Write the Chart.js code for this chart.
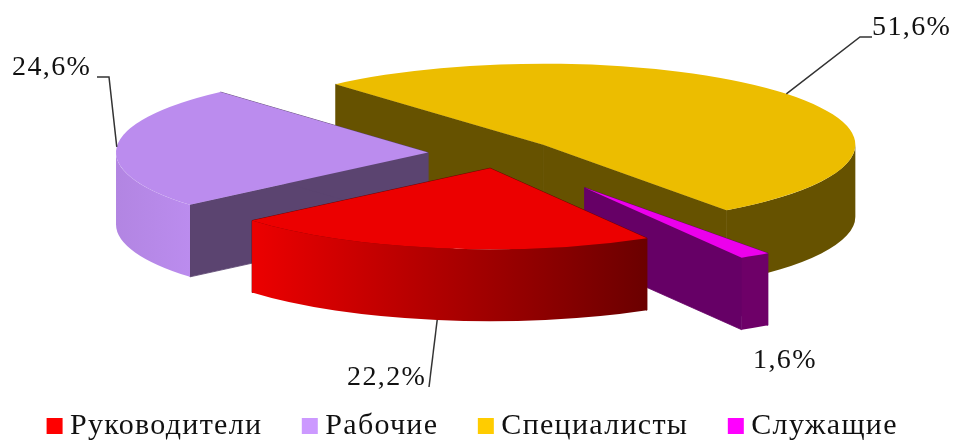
<!DOCTYPE html>
<html lang="ru">
<head>
<meta charset="utf-8">
<title>Структура персонала</title>
<script src="https://cdn.jsdelivr.net/npm/chart.js@4"></script>
<style>
  html, body { margin: 0; padding: 0; background: #fff; overflow: hidden; }
  canvas { display: block; }
</style>
</head>
<body>
<canvas id="pie" width="956" height="441"></canvas>
<script>
// ==== Data ====
const categories = ["Руководители", "Рабочие", "Специалисты", "Служащие"];
const shares = [22.2, 24.6, 51.6, 1.6];

// ==== Look ====
const topColors = ["#ec0000", "#bb8cee", "#ecbd00", "#ec00ec"];
const cutColors = ["#6b0000", "#5b4470", "#665200", "#660066"];
const wallColors = [["#ec0000", "#6b0000"], ["#b285e2", "#bb8cee"], ["#665200", "#665200"], ["#6e0068", "#6e0068"]];
const legendColors = ["#ff0000", "#cc99ff", "#ffcc00", "#ff00ff"];
const explode = [0.18, 0.23, 0.18, 0.5];
const drawOrder = [2, 1, 3, 0]; // back to front

const pieCenter = { x: 499.6, y: 153.8 };
const radiusX = 312;
const radiusY = 81;
const depth = 72;

// label text position, then the elbow of its leader line
const labelSpots = [
  { x: 347, y: 385, line: [[429, 387]] },
  { x: 12, y: 75, line: [[109, 77], [97, 77]] },
  { x: 872, y: 35, line: [[860, 37], [872, 37]] },
  { x: 753, y: 368, line: null }
];

function sliceGeometry(arc, i) {
  const mid = (arc.startAngle + arc.endAngle) / 2;
  return {
    x: pieCenter.x + explode[i] * radiusX * Math.cos(mid),
    y: pieCenter.y + explode[i] * radiusY * Math.sin(mid),
    mid
  };
}

function drawCut(ctx, g, angle, color) {
  const px = g.x + radiusX * Math.cos(angle);
  const py = g.y + radiusY * Math.sin(angle);
  ctx.fillStyle = color;
  ctx.strokeStyle = color;
  ctx.lineWidth = 0.8;
  ctx.beginPath();
  ctx.moveTo(g.x, g.y);
  ctx.lineTo(px, py);
  ctx.lineTo(px, py + depth);
  ctx.lineTo(g.x, g.y + depth);
  ctx.closePath();
  ctx.fill();
  ctx.stroke();
}

function drawOuterWall(ctx, g, start, end, colors) {
  // only the part of the rim that faces the viewer
  for (let k = 0; k < 2; k++) {
    const from = Math.max(start, k * 2 * Math.PI);
    const to = Math.min(end, k * 2 * Math.PI + Math.PI);
    if (to <= from) continue;
    const x0 = g.x + radiusX * Math.cos(from);
    const x1 = g.x + radiusX * Math.cos(to);
    const grad = ctx.createLinearGradient(Math.min(x0, x1), 0, Math.max(x0, x1), 0);
    grad.addColorStop(0, colors[0]);
    grad.addColorStop(1, colors[1]);
    ctx.fillStyle = grad;
    ctx.beginPath();
    ctx.ellipse(g.x, g.y, radiusX, radiusY, 0, from, to);
    ctx.ellipse(g.x, g.y + depth, radiusX, radiusY, 0, to, from, true);
    ctx.closePath();
    ctx.fill();
  }
}

// ==== 3D pie, built on the arcs the doughnut controller computed ====
const tiltedPie = {
  id: "tiltedPie",
  beforeUpdate(chart) {
    chart.ctx.letterSpacing = "1.3px";
  },
  beforeDatasetsDraw(chart) {
    const ctx = chart.ctx;
    const arcs = chart.getDatasetMeta(0).data;
    drawOrder.forEach(i => {
      const arc = arcs[i];
      const g = sliceGeometry(arc, i);
      drawCut(ctx, g, arc.startAngle, cutColors[i]);
      drawCut(ctx, g, arc.endAngle, cutColors[i]);
      drawOuterWall(ctx, g, arc.startAngle, arc.endAngle, wallColors[i]);
      ctx.save();
      ctx.translate(g.x, g.y);
      ctx.scale(radiusX / arc.outerRadius, radiusY / arc.outerRadius);
      ctx.translate(-arc.x, -arc.y);
      arc.draw(ctx);
      ctx.restore();
    });
    return false;
  },
  afterDraw(chart) {
    const ctx = chart.ctx;
    const arcs = chart.getDatasetMeta(0).data;
    ctx.save();
    ctx.letterSpacing = "1.4px";
    ctx.font = "28px 'Liberation Serif'";
    ctx.textBaseline = "alphabetic";
    ctx.strokeStyle = "#333";
    ctx.lineWidth = 1.5;
    labelSpots.forEach((spot, i) => {
      if (spot.line) {
        const g = sliceGeometry(arcs[i], i);
        const ax = g.x + radiusX * Math.cos(g.mid);
        let ay = g.y + radiusY * Math.sin(g.mid);
        if (Math.sin(g.mid) > 0) ay += depth; // leader starts at the foot of the rim
        ctx.beginPath();
        ctx.moveTo(ax, ay);
        spot.line.forEach(p => ctx.lineTo(p[0], p[1]));
        ctx.stroke();
      }
      ctx.fillStyle = "#111";
      ctx.fillText(shares[i].toFixed(1).replace(".", ",") + "%", spot.x, spot.y);
    });
    ctx.restore();
  }
};

// ==== Chart ====
new Chart(document.getElementById("pie"), {
  type: "pie",
  data: {
    labels: categories,
    datasets: [{
      data: shares,
      backgroundColor: topColors,
      borderWidth: 0
    }]
  },
  options: {
    responsive: false,
    animation: false,
    rotation: 149.8,
    // legend row is wider than the padding rules allow, so let it overhang
    layout: { padding: { left: -100, right: -95.9, bottom: -10 } },
    plugins: {
      tooltip: { enabled: false },
      legend: {
        position: "bottom",
        labels: {
          color: "#111",
          font: { family: "'Liberation Serif'", size: 30 },
          boxWidth: 1,
          boxHeight: 1,
          padding: 47,
          generateLabels: () => categories.map((name, i) => ({
            text: name,
            fillStyle: legendColors[i],
            strokeStyle: legendColors[i],
            fontColor: "#111",
            lineWidth: 15,
            index: i
          }))
        }
      }
    }
  },
  plugins: [tiltedPie]
});
</script>
</body>
</html>
